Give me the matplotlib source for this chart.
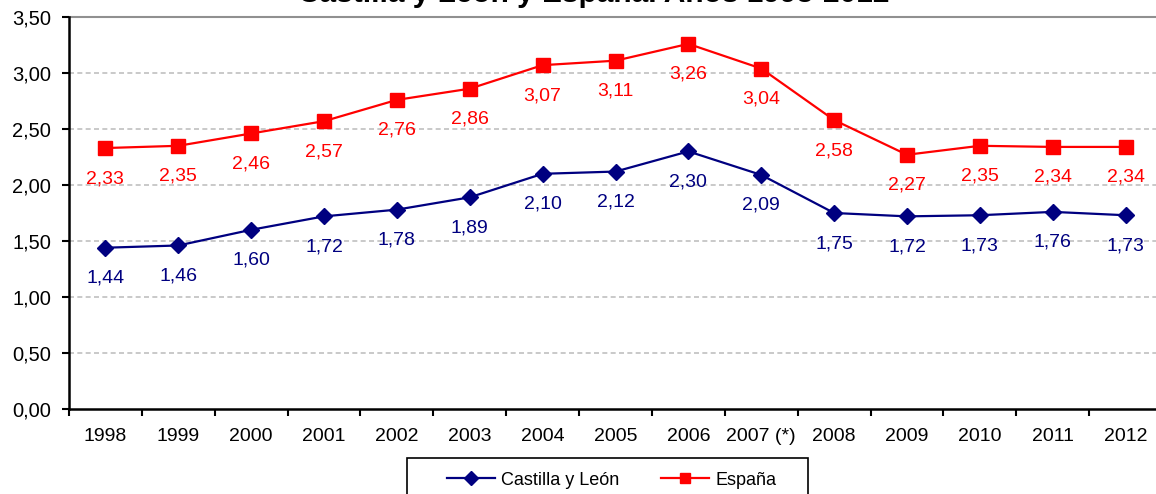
import matplotlib
matplotlib.use("Agg")
import matplotlib.pyplot as plt
from matplotlib.patches import Rectangle
import numpy as np

plt.rcParams['font.family'] = ['Liberation Sans', 'DejaVu Sans']

years = ['1998', '1999', '2000', '2001', '2002', '2003', '2004', '2005',
         '2006', '2007 (*)', '2008', '2009', '2010', '2011', '2012']
cyl = [1.44, 1.46, 1.60, 1.72, 1.78, 1.89, 2.10, 2.12, 2.30, 2.09,
       1.75, 1.72, 1.73, 1.76, 1.73]
espana = [2.33, 2.35, 2.46, 2.57, 2.76, 2.86, 3.07, 3.11, 3.26, 3.04,
          2.58, 2.27, 2.35, 2.34, 2.34]

W, H = 1156, 494
fig = plt.figure(figsize=(W / 100, H / 100), dpi=100)
ax = fig.add_axes([69 / W, 1 - 409 / H, 1093 / W, 392 / H])

x = np.arange(len(years))

ax.set_ylim(0, 3.5)
ax.set_xlim(-0.5, len(years) - 0.5)
for yv in np.arange(0.5, 3.5, 0.5):
    ax.axhline(yv, color='#c0c0c0', lw=1.2, ls=(0, (3, 2)), zorder=1)
ax.axhline(3.5, color='#909090', lw=1.5, zorder=1, clip_on=False)

ax.plot(x, cyl, color='#000080', lw=1.6, marker='D', ms=8,
        label='Castilla y León', zorder=3)
ax.plot(x, espana, color='#ff0000', lw=1.6, marker='s', ms=10,
        label='España', zorder=3)

# data labels under each point
for xi, v in zip(x, cyl):
    ax.annotate(f'{v:.2f}'.replace('.', ','), (xi, v), xytext=(0, -22),
                textcoords='offset points', ha='center', va='center',
                color='#000080', fontsize=14)
for xi, v in zip(x, espana):
    ax.annotate(f'{v:.2f}'.replace('.', ','), (xi, v), xytext=(0, -22),
                textcoords='offset points', ha='center', va='center',
                color='#ff0000', fontsize=14)

yt = np.arange(0, 3.51, 0.5)
ax.set_yticks(yt)
ax.set_yticklabels([f'{v:.2f}'.replace('.', ',') for v in yt], fontsize=14.5)
ax.set_xticks(x)
ax.set_xticklabels(years, fontsize=14)
ax.set_xticks(np.arange(-0.5, len(years), 1), minor=True)
ax.tick_params(axis='x', which='major', length=0, pad=14)
ax.tick_params(axis='x', which='minor', length=5, width=1.5, direction='out')
ax.tick_params(axis='y', length=5, width=1.5, direction='out', pad=8)

for side in ['top', 'right']:
    ax.spines[side].set_visible(False)
for side in ['left', 'bottom']:
    ax.spines[side].set_linewidth(1.8)
    ax.spines[side].set_zorder(4)

# title sits mostly above the picture, as in the source
fig.text(594 / W, 1 - 2 / H, 'Castilla y León y España. Años 1998-2012',
         ha='center', va='baseline', fontsize=21.5, fontweight='bold')

# legend box like the excel one, runs off the bottom
fig.patches.append(Rectangle((407 / W, -0.05), 401 / W, 0.05 + 1 - 458 / H,
                             transform=fig.transFigure, fill=False,
                             edgecolor='black', lw=1.2))
leg = fig.legend(loc='center left', bbox_to_anchor=(447 / W, 1 - 480 / H),
                 ncol=2, fontsize=13, frameon=False, handlelength=2.65,
                 columnspacing=2.3, borderpad=0, borderaxespad=0,
                 handletextpad=0.35)
for h in leg.legend_handles:
    h.set_markersize(7)

fig.savefig('out.png', dpi=100)
